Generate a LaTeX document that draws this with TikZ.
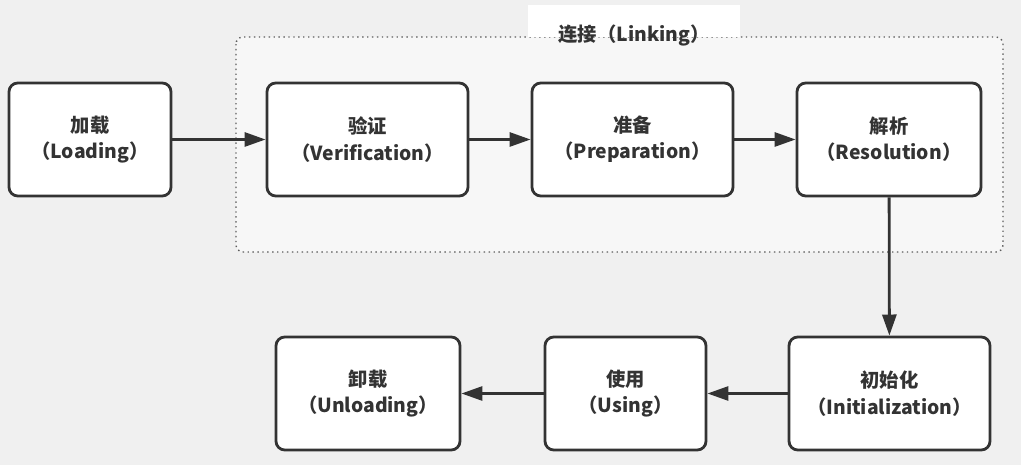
\documentclass[tikz,border=0pt]{standalone}
\usepackage{fontspec}
\setmainfont{Noto Sans CJK SC}
\usepackage{tikz}
\usetikzlibrary{positioning}
\usetikzlibrary{arrows.meta}

\definecolor{bgcol}{HTML}{F0F0F0}
\definecolor{inkcol}{HTML}{333333}
\definecolor{groupcol}{HTML}{F7F7F7}

\begin{document}
\begin{tikzpicture}[x=0.02cm,y=-0.02cm,>={Triangle[length=12pt,width=8pt]},
  thick,font=\bfseries\fontsize{11}{15}\selectfont,
  stage/.style={rectangle,rounded corners=5pt,draw=inkcol,line width=1.6pt,fill=white,
    text=inkcol,align=center,minimum height=113*0.02cm,inner sep=0pt},
  flow/.style={->,draw=inkcol,line width=1.6pt}]
  % background and the linking group
  \fill[bgcol] (0,0) rectangle (1021,465);
  \useasboundingbox (0,0) rectangle (1021,465);
  \draw[dotted,draw=inkcol!80,fill=groupcol,line width=0.8pt,rounded corners=4pt] (236,37) rectangle (1003,252);
  \fill[white] (528,5) rectangle (740,37);
  \node[text=inkcol] (linklbl) at (634,35) {连接（Linking）};
  % stages
  \node[stage,minimum width=162*0.02cm] (load) at (90,139.5) {加载\\（Loading）};
  \node[stage,minimum width=201*0.02cm] (verify) at (367.5,139.5) {验证\\（Verification）};
  \node[stage,minimum width=201*0.02cm] (prep) at (632.5,139.5) {准备\\（Preparation）};
  \node[stage,minimum width=184*0.02cm] (resol) at (889,139.5) {解析\\（Resolution）};
  \node[stage,minimum width=201*0.02cm] (init) at (889.5,393.5) {初始化\\（Initialization）};
  \node[stage,minimum width=161*0.02cm] (use) at (625.5,393.5) {使用\\（Using）};
  \node[stage,minimum width=184*0.02cm] (unload) at (368,393.5) {卸载\\（Unloading）};
  % arrows
  \draw[flow] (load) -- (verify);
  \draw[flow] (verify) -- (prep);
  \draw[flow] (prep) -- (resol);
  \draw[flow] (resol) -- (init);
  \draw[flow] (init) -- (use);
  \draw[flow] (use) -- (unload);
\end{tikzpicture}
\end{document}
